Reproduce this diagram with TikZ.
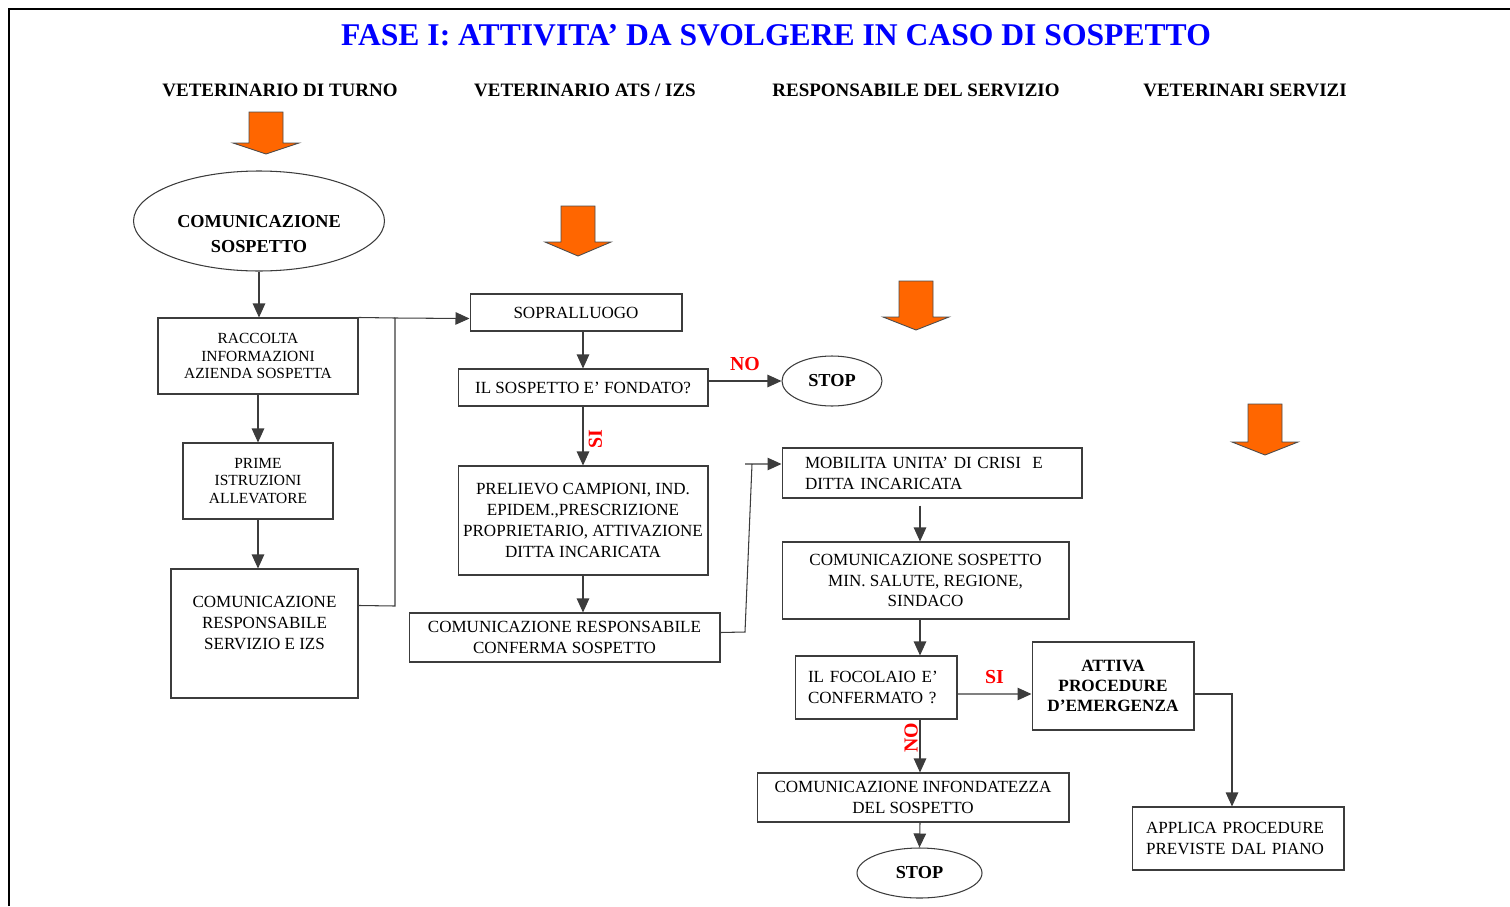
\documentclass[tikz,border=0pt]{standalone}
\usepackage{fontspec}
\setmainfont{Liberation Serif}
\usetikzlibrary{arrows.meta,shapes.geometric}
\definecolor{titleblue}{RGB}{0,0,255}
\definecolor{fillorange}{RGB}{255,102,0}
\definecolor{answerred}{RGB}{255,0,0}
\definecolor{linegray}{RGB}{60,60,60}

\begin{document}
\begin{tikzpicture}[x=0.02cm,y=-0.02cm,
    box/.style={draw=linegray,line width=0.6pt,inner sep=0pt,align=center,
      font=\fontsize{9.7}{11.9}\selectfont},
    smallbox/.style={box,font=\fontsize{8.8}{10.2}\selectfont},
    leftbox/.style={box,align=left,inner xsep=#1},
    oval/.style={ellipse,draw=linegray,line width=0.6pt,inner sep=0pt,align=center,
      font=\bfseries\fontsize{10.4}{14}\selectfont},
    flow/.style={draw=linegray,line width=0.6pt,-{Triangle[length=0.28cm,width=0.25cm]}},
    link/.style={draw=linegray,line width=0.6pt},
    answer/.style={text=answerred,inner sep=1pt,font=\bfseries\fontsize{11.3}{13}\selectfont},
    header/.style={font=\bfseries\fontsize{10.8}{13}\selectfont},
    bigarrow/.style={draw=black!70,line width=0.5pt,fill=fillorange}]
  \useasboundingbox (0,0) rectangle (1510,906);

  % page frame
  \draw[line width=0.8pt] (9,906) -- (9,9) -- (1510,9);

  % title and columns
  \node[text=titleblue,font=\bfseries\fontsize{18}{20}\selectfont] (title) at (776,35)
    {FASE I: ATTIVITA’ DA SVOLGERE IN CASO DI SOSPETTO};
  \node[header] (h1) at (280,90) {VETERINARIO DI TURNO};
  \node[header] (h2) at (585,90) {VETERINARIO ATS / IZS};
  \node[header] (h3) at (916,90) {RESPONSABILE DEL SERVIZIO};
  \node[header] (h4) at (1245,90) {VETERINARI SERVIZI};

  % orange arrows
  \foreach \cx/\ya/\yb/\yc in {266/112/143/154, 578/206/242/256, 916/281/317/330, 1265/404/442/455}
    \draw[bigarrow] (\cx-17,\ya) -- (\cx+17,\ya) -- (\cx+17,\yb) -- (\cx+33,\yb)
      -- (\cx,\yc) -- (\cx-33,\yb) -- (\cx-17,\yb) -- cycle;

  % veterinario di turno
  \node[oval,minimum width=5.02cm,minimum height=2cm] (comm) at (259,221)
    {\mbox{}\\[0.28cm]COMUNICAZIONE\\SOSPETTO};
  \node[smallbox,minimum width=4cm,minimum height=1.52cm] (raccolta) at (258,356)
    {RACCOLTA\\INFORMAZIONI\\AZIENDA SOSPETTA};
  \node[smallbox,minimum width=3cm,minimum height=1.52cm] (prime) at (258,481)
    {PRIME\\ISTRUZIONI\\ALLEVATORE};
  \node[box,minimum width=3.74cm,minimum height=2.58cm] (comresp) at (264.5,633.5)
    {COMUNICAZIONE\\RESPONSABILE\\SERVIZIO E IZS\\ \mbox{}};

  % veterinario ATS / IZS
  \node[box,minimum width=4.24cm,minimum height=0.74cm] (sopr) at (576,312.5) {SOPRALLUOGO};
  \node[box,minimum width=5cm,minimum height=0.74cm] (fondato) at (583,387.5) {IL SOSPETTO E’ FONDATO?};
  \node[oval,minimum width=2cm,minimum height=1cm] (stop1) at (832,381) {STOP};
  \node[box,minimum width=5cm,minimum height=2.18cm] (prelievo) at (583,520.5)
    {PRELIEVO CAMPIONI, IND.\\EPIDEM.,PRESCRIZIONE\\PROPRIETARIO, ATTIVAZIONE\\DITTA INCARICATA};
  \node[box,minimum width=6.22cm,minimum height=0.98cm] (conferma) at (564.5,637.5)
    {\mbox{}\\[-0.2cm]COMUNICAZIONE RESPONSABILE\\CONFERMA SOSPETTO};

  % responsabile del servizio
  \node[leftbox=0.46cm,text width=5.08cm,minimum height=1cm] (mobilita) at (932,473)
    {MOBILITA UNITA’ DI CRISI\ \ E\\DITTA INCARICATA};
  \node[box,minimum width=5.74cm,minimum height=1.54cm] (comsosp) at (925.5,580.5)
    {COMUNICAZIONE SOSPETTO\\MIN. SALUTE, REGIONE,\\SINDACO};
  \node[leftbox=0.26cm,text width=2.72cm,minimum height=1.26cm] (focolaio) at (876,687.5)
    {IL FOCOLAIO E’\\CONFERMATO ?};
  \node[box,font=\bfseries\fontsize{9.8}{11.6}\selectfont,minimum width=3.24cm,minimum height=1.76cm]
    (attiva) at (1113,686) {ATTIVA\\PROCEDURE\\D’EMERGENZA};
  \node[box,minimum width=6.24cm,minimum height=0.98cm] (infond) at (913,797.5)
    {\mbox{}\\[-0.2cm]COMUNICAZIONE INFONDATEZZA\\DEL SOSPETTO};
  \node[oval,minimum width=2.5cm,minimum height=1cm] (stop2) at (919.5,873) {STOP};

  % veterinari servizi
  \node[leftbox=0.28cm,text width=3.68cm,minimum height=1.26cm] (applica) at (1238,838.5)
    {APPLICA PROCEDURE\\PREVISTE DAL PIANO};

  % junctions
  \coordinate (j1) at (395,318);
  \coordinate (j2) at (745,632);
  \coordinate (j3) at (752,464);
  \coordinate (j4) at (745,464);
  \coordinate (col) at (920,0);

  % connectors
  \draw[flow] (comm.south) -- (comm.south |- raccolta.north);
  \draw[flow] (raccolta.south) -- (prime.north);
  \draw[flow] (prime.south) -- (prime.south |- comresp.north);
  \draw[link] (raccolta.north east) -- (j1);
  \draw[flow] ([yshift=-0.74cm]comresp.north east) -- (395,606) -- (j1) -- ([yshift=0.26cm]sopr.south west);
  \draw[flow] (sopr.south -| fondato.north) -- (fondato.north);
  \draw[flow] (fondato.east |- stop1.west) -- (stop1.west)
    node[answer,midway,above,yshift=0.16cm] {NO};
  \draw[flow] (fondato.south) -- (prelievo.north)
    node[answer,pos=0.55,rotate=90,anchor=north,inner sep=3pt] {SI};
  \draw[flow] (prelievo.south) -- (prelievo.south |- conferma.north);
  \draw[link] ([yshift=0.1cm]conferma.east) -- (j2) -- (j3);
  \draw[flow] (j4) -- ([yshift=0.18cm]mobilita.west);
  \draw[flow] ([yshift=-0.14cm]mobilita.south -| col) -- (comsosp.north -| col);
  \draw[flow] (comsosp.south -| col) -- (focolaio.north -| col);
  \draw[flow] ([yshift=-0.13cm]focolaio.east) -- ([yshift=-0.16cm]attiva.west)
    node[answer,midway,above,yshift=0.16cm] {SI};
  \draw[flow] (focolaio.south -| col) -- (infond.north -| col)
    node[answer,pos=0.35,rotate=90,anchor=south] {NO};
  \draw[flow] (infond.south -| col) -- (stop2.north);
  \draw[flow] ([yshift=-0.16cm]attiva.east) -| ([xshift=-0.12cm]applica.north);
\end{tikzpicture}
\end{document}
